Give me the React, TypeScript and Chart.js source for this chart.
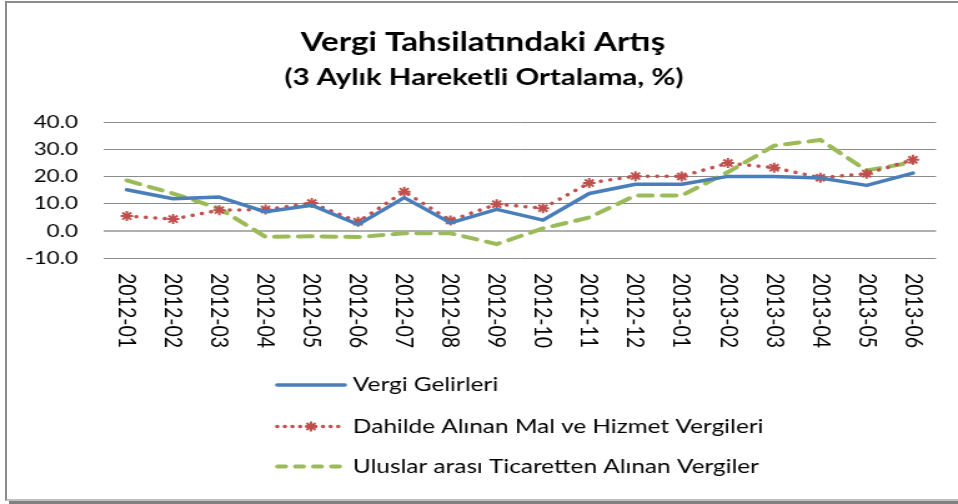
import React, { useEffect, useRef } from "react";
import { Chart, registerables } from "chart.js";

Chart.register(...registerables);

// ---- data ----
const categories = [
  "2012-01", "2012-02", "2012-03", "2012-04", "2012-05", "2012-06",
  "2012-07", "2012-08", "2012-09", "2012-10", "2012-11", "2012-12",
  "2013-01", "2013-02", "2013-03", "2013-04", "2013-05", "2013-06",
];
const vergiGelirleri = [15.1, 11.8, 12.4, 7.0, 9.4, 2.3, 12.2, 2.9, 7.9, 3.9, 13.7, 17.1, 17.1, 20.0, 20.0, 19.4, 16.7, 21.2];
const dahildeAlinan = [5.4, 4.3, 7.6, 7.8, 10.2, 3.3, 14.4, 3.8, 9.8, 8.3, 17.6, 20.1, 20.0, 24.9, 23.2, 19.5, 21.0, 26.1];
const uluslararasi = [18.5, 13.7, 8.2, -2.2, -2.0, -2.3, -0.9, -0.9, -4.9, 0.9, 4.9, 13.0, 13.0, 21.6, 31.3, 33.4, 22.2, 25.2];
const seriesNames = [
  "Vergi Gelirleri",
  "Dahilde Alınan Mal ve Hizmet Vergileri",
  "Uluslar arası Ticaretten Alınan Vergiler",
];
const yMin = -10;
const yMax = 40;
const yStep = 10;
const titleText = "Vergi Tahsilatındaki Artış";
const subtitleText = "(3 Aylık Hareketli Ortalama, %)";

// ---- layout (the original picture is horizontally stretched) ----
const CW = 767;
const CH = 504;
const S = 958 / CW;
const px = (x: number) => x / S;
const FONT = "Lato";

const BLUE = "#4A7EBB";
const RED = "#C0504D";
const GREEN = "#9BBB59";

const legendDashes: number[][] = [[], [0.1, 6], [6.4, 8]];

function drawStar(ctx: CanvasRenderingContext2D, x: number, y: number, r: number) {
  ctx.beginPath();
  for (let k = 0; k < 4; k++) {
    const a = (k * Math.PI) / 4;
    ctx.moveTo(x - Math.cos(a) * r, y - Math.sin(a) * r);
    ctx.lineTo(x + Math.cos(a) * r, y + Math.sin(a) * r);
  }
  ctx.stroke();
}

const customPlugin = {
  id: "customText",
  afterDraw(chart: any) {
    const ctx: CanvasRenderingContext2D = chart.ctx;
    ctx.save();
    ctx.fillStyle = "#000";
    // titles
    ctx.textAlign = "center";
    ctx.textBaseline = "alphabetic";
    ctx.font = `bold 26.5px ${FONT}`;
    ctx.fillText(titleText, px(483), 50.5);
    ctx.font = `bold 23.5px ${FONT}`;
    ctx.fillText(subtitleText, px(484), 85);

    // x labels, rotated clockwise
    const xs = chart.scales.x;
    ctx.font = `19.5px ${FONT}`;
    ctx.textAlign = "left";
    ctx.textBaseline = "middle";
    categories.forEach((c, i) => {
      const x = xs.getPixelForValue(i);
      ctx.save();
      ctx.translate(x, chart.chartArea.bottom + 15);
      ctx.rotate(Math.PI / 2);
      ctx.fillText(c, 0, 0);
      ctx.restore();
    });

    // legend (vertical)
    const rows = [385, 426.5, 466.5];
    const x0 = px(275);
    const x1 = px(347);
    chart.data.datasets.forEach((ds: any, i: number) => {
      const y = rows[i];
      ctx.save();
      ctx.strokeStyle = ds.borderColor;
      ctx.lineWidth = ds.borderWidth;
      ctx.lineCap = ds.borderCapStyle || "butt";
      ctx.setLineDash(legendDashes[i]);
      ctx.beginPath();
      const w = ctx.lineCap === "round" ? ds.borderWidth / 2 : 0;
      ctx.moveTo(x0 + w, y);
      ctx.lineTo(x1 - w, y);
      ctx.stroke();
      if (ds.pointRadius > 0) {
        ctx.setLineDash([]);
        ctx.lineWidth = ds.pointBorderWidth;
        ctx.lineCap = "butt";
        ctx.strokeStyle = ds.pointBorderColor;
        drawStar(ctx, (x0 + x1) / 2, y, ds.pointRadius);
      }
      ctx.restore();
      ctx.fillStyle = "#000";
      ctx.font = `19.5px ${FONT}`;
      ctx.textAlign = "left";
      ctx.textBaseline = "middle";
      ctx.fillText(ds.label, px(353), y);
    });
    ctx.restore();
  },
};

export default function App() {
  const canvasRef = useRef<HTMLCanvasElement | null>(null);

  useEffect(() => {
    if (!canvasRef.current) return;
    const chart = new Chart(canvasRef.current, {
      type: "line",
      data: {
        labels: categories,
        datasets: [
          {
            label: seriesNames[0],
            data: vergiGelirleri,
            borderColor: BLUE,
            backgroundColor: BLUE,
            borderWidth: 3.5,
            borderCapStyle: "round",
            borderJoinStyle: "round",
            pointRadius: 0,
            tension: 0,
          },
          {
            label: seriesNames[1],
            data: dahildeAlinan,
            borderColor: RED,
            backgroundColor: RED,
            borderWidth: 3.5,
            borderDash: [0.1, 7.5],
            borderCapStyle: "round",
            pointStyle: "star",
            pointRadius: 5,
            pointBorderWidth: 2,
            pointBorderColor: RED,
            pointBackgroundColor: RED,
            tension: 0,
          },
          {
            label: seriesNames[2],
            data: uluslararasi,
            borderColor: GREEN,
            backgroundColor: GREEN,
            borderWidth: 4,
            borderDash: [11, 8],
            borderCapStyle: "round",
            pointRadius: 0,
            tension: 0,
          },
        ],
      },
      options: {
        responsive: false,
        animation: false,
        devicePixelRatio: 1,
        layout: { padding: { top: 122, left: 0, right: CW - px(936), bottom: CH - 258 } },
        plugins: {
          legend: { display: false },
          title: { display: false },
          tooltip: { enabled: false },
        },
        scales: {
          x: {
            type: "category",
            offset: true,
            grid: { display: false },
            border: { display: false },
            ticks: { display: false },
            afterFit: (scale: any) => {
              scale.height = 0;
            },
          },
          y: {
            min: yMin,
            max: yMax,
            ticks: {
              stepSize: yStep,
              color: "#000",
              padding: px(103.7 - 78),
              font: { family: FONT, size: 18 },
              callback: (v: any) => Number(v).toFixed(1),
            },
            grid: {
              drawTicks: false,
              color: (c: any) => (c.tick && c.tick.value === 0 ? "#b0b0b0" : "#8c8c8c"),
              lineWidth: (c: any) => (c.tick && c.tick.value === 0 ? 2 : 1),
            },
            border: { display: false },
            afterFit: (scale: any) => {
              scale.width = px(103.7);
            },
          },
        },
      },
      plugins: [customPlugin],
    });
    return () => chart.destroy();
  }, []);

  return (
    <div style={{ position: "absolute", left: 0, top: 0, width: 958, height: 504, overflow: "hidden", background: "#fff" }}>
      <div
        style={{
          position: "absolute",
          left: 5,
          top: 1,
          width: 1100,
          height: 500,
          boxSizing: "border-box",
          borderLeft: "2px solid #8c8c8c",
          borderTop: "2px solid #8c8c8c",
          borderBottom: "2px solid #c0c0c0",
          boxShadow: "4px 3px 0 #808080",
          background: "#fff",
        }}
      />
      <div
        style={{
          position: "absolute",
          left: 0,
          top: 0,
          width: CW,
          height: CH,
          transform: `scaleX(${S})`,
          transformOrigin: "0 0",
        }}
      >
        <canvas ref={canvasRef} width={CW} height={CH} style={{ width: CW, height: CH, display: "block" }} />
      </div>
    </div>
  );
}
